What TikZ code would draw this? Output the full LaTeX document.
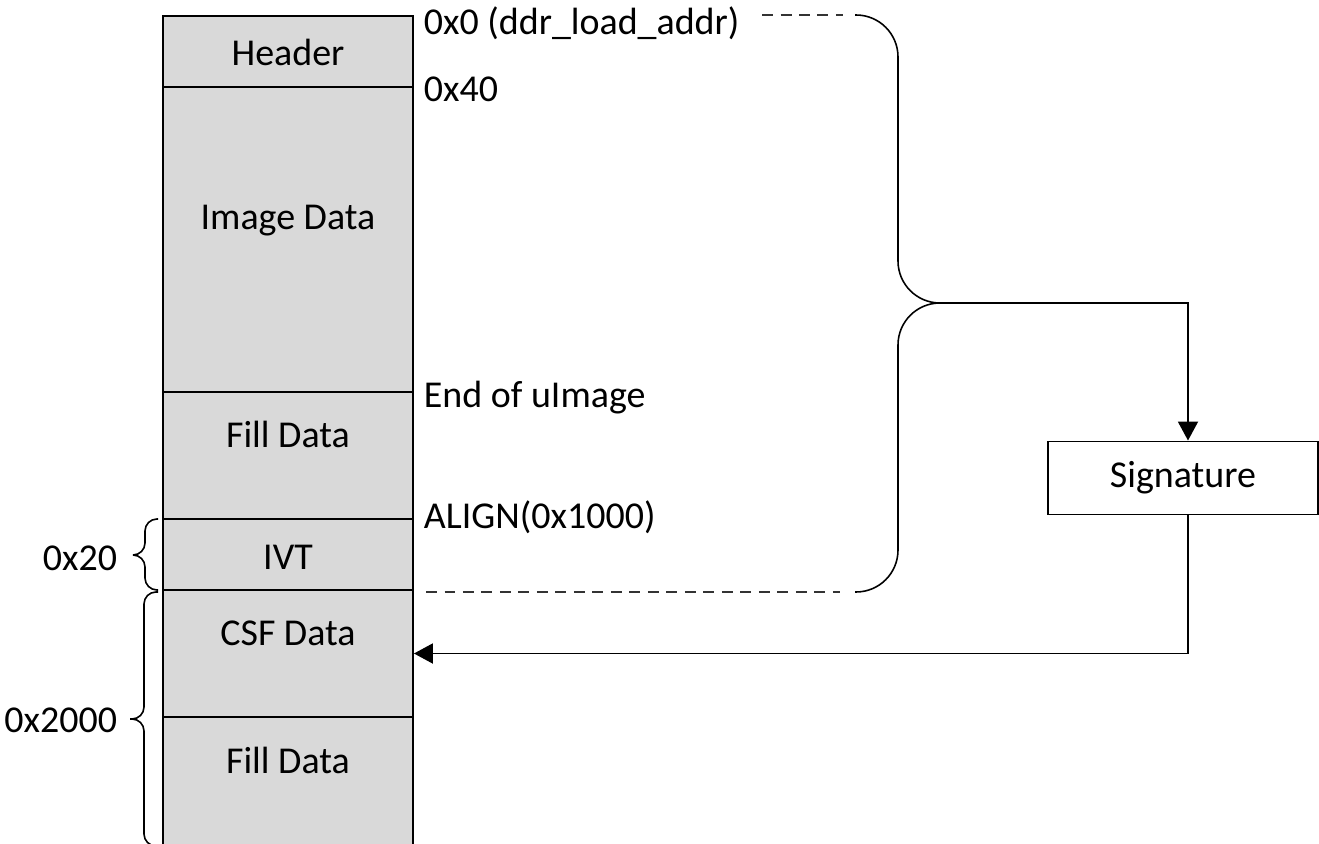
\documentclass[tikz,border=0pt]{standalone}
\usepackage{fontspec}
\setmainfont{Carlito}
\usetikzlibrary{arrows.meta,positioning}

\tikzset{
	seg/.style={draw, fill=black!15, minimum width=5cm, inner sep=0pt},
	txt/.style={anchor=base, inner sep=0pt},
	addr/.style={anchor=base west, inner sep=0pt},
	size/.style={anchor=base east, inner sep=0pt},
	brc/.style={line width=0.9pt, rounded corners=#1},
	dsh/.style={black!80, line width=1.2pt, dash pattern=on 0.22cm off 0.15cm},
	arr/.style={-{Triangle[length=0.38cm,width=0.4cm]}},
	sigbox/.style={draw, fill=white, minimum width=5.4cm, minimum height=1.46cm, inner sep=0pt}
}

\begin{document}
\begin{tikzpicture}[x=0.02cm,y=-0.02cm,line width=1.1pt,
	every node/.style={font=\fontsize{21.6}{26}\selectfont}]
	\clip (0,0) rectangle (1319,844);

	% image layout in DDR
	\node[seg, minimum height=1.42cm] (hdr) at (288,51.5) {};
	\node[seg, minimum height=6.1cm] (img) at (288,239.5) {};
	\node[seg, minimum height=2.54cm] (fill1) at (288,455.5) {};
	\node[seg, minimum height=1.42cm] (ivt) at (288,554.5) {};
	\node[seg, minimum height=2.54cm] (csf) at (288,653.5) {};
	\node[seg, minimum height=5.08cm] (fill2) at (288,844) {};

	\node[txt] (hdrt) at (288,66) {Header};
	\node[txt] (imgt) at (288,230) {Image Data};
	\node[txt] (fill1t) at (288,448) {Fill Data};
	\node[txt] (ivtt) at (288,569) {IVT};
	\node[txt] (csft) at (288,645) {CSF Data};
	\node[txt] (fill2t) at (288,773) {Fill Data};

	\node[addr] (a0) at (423,35) {0x0 (ddr\_load\_addr)};
	\node[addr] (a40) at (423,102) {0x40};
	\node[addr] (aend) at (423,408) {End of uImage};
	\node[addr] (aalign) at (423,528) {ALIGN(0x1000)};

	\node[size] (s20) at (118,570) {0x20};
	\node[size] (s2000) at (118,732) {0x2000};

	% sizes on the left
	\draw[brc=0.24cm]
		(158,519) -- (145,519) -- (145,555) -- (133,555)
		(133,555) -- (145,555) -- (145,590) -- (158,590);
	\draw[brc=0.24cm]
		(158,592) -- (144,592) -- (144,719) -- (130,719)
		(130,719) -- (144,719) -- (144,846) -- (158,846);

	% signed region
	\coordinate (btop) at (855,15);
	\coordinate (bbot) at (855,592);
	\coordinate (brtip) at (940,303);
	\draw[dsh] (762,15) -- (843,15);
	\draw[dsh] (426,592) -- (840,592);
	\draw[brc=0.84cm]
		(btop) -- (898,15) -- (898,303) -- (brtip)
		(brtip) -- (898,303) -- (898,592) -- (bbot);

	\node[sigbox] (sig) at (1183,478) {Signature};

	\draw[arr] (brtip) -| ([xshift=0.1cm]sig.north);
	\draw[arr] ([xshift=0.1cm]sig.south) |- (csf.east);

\end{tikzpicture}
\end{document}
